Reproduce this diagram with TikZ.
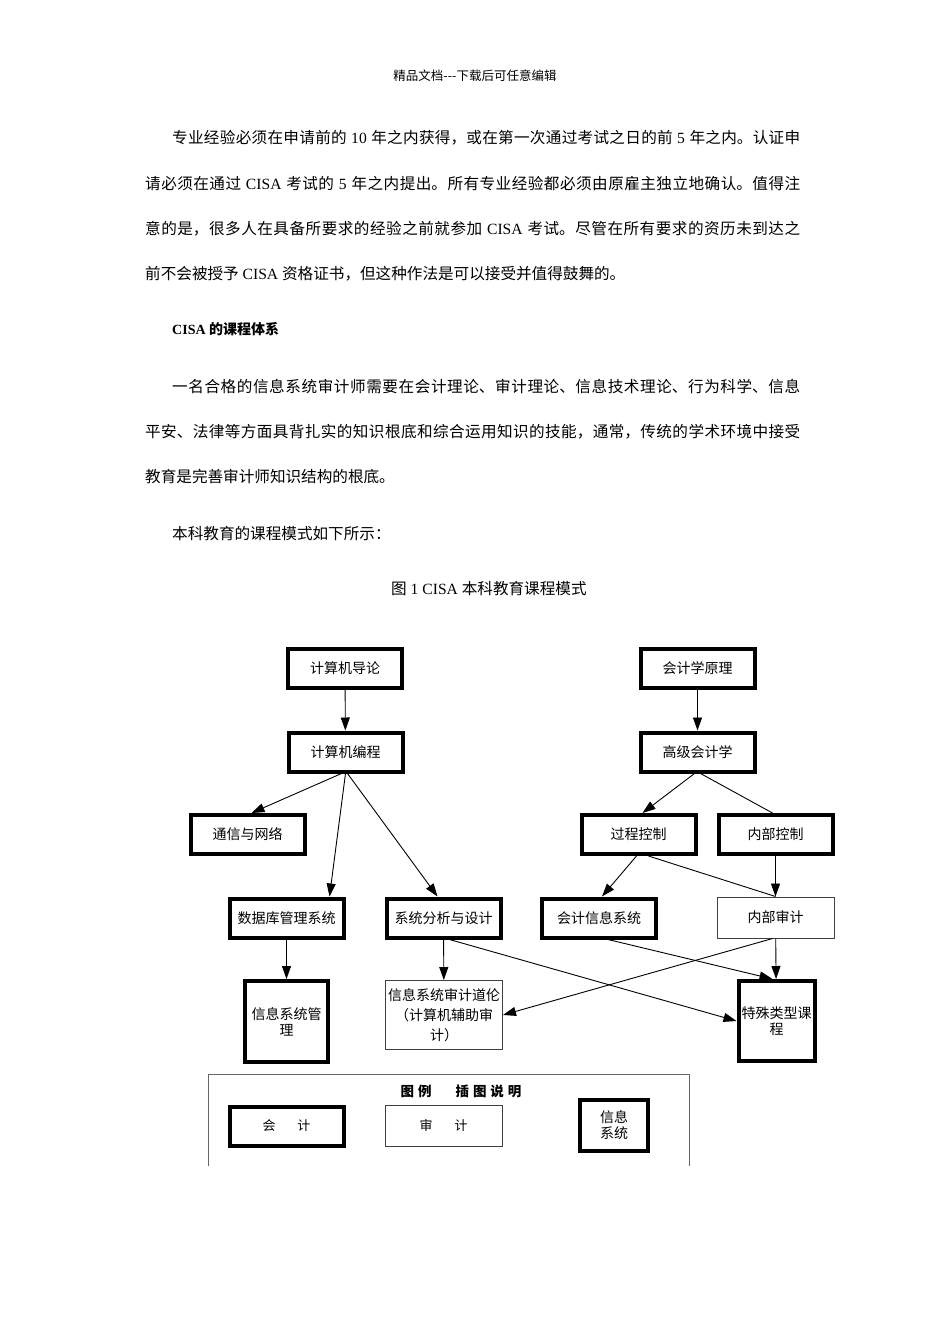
\documentclass[tikz,border=0pt]{standalone}
\usepackage{fontspec}
\setmainfont{Liberation Serif}
\newfontfamily\cjk{Noto Sans CJK SC}
\usetikzlibrary{arrows.meta}
\XeTeXlinebreaklocale "zh"
\XeTeXlinebreakskip=0pt plus 1pt minus 0.5pt

\begin{document}
\begin{tikzpicture}[x=1pt, y=-1pt,
    bodytext/.style={anchor=base west, inner sep=0pt, font=\cjk\fontsize{15.6}{18}\selectfont},
    fullline/.style={bodytext, text width=655pt, align=justify,
      execute at begin node={\parindent=0pt\parfillskip=0pt\relax}},
    course/.style={draw, line width=4pt, inner sep=0pt, minimum width=114pt, minimum height=39pt,
      align=center, font=\cjk\fontsize{14}{16}\selectfont},
    auditbox/.style={draw=black!75, line width=1pt, inner sep=0pt, minimum width=117pt, minimum height=41pt,
      align=center, font=\cjk\fontsize{14}{20}\selectfont},
    arr/.style={-{Triangle[length=13pt,width=9pt]}, line width=0.9pt},
    link/.style={line width=0.9pt},
    legendframe/.style={draw=black!60, line width=1pt}]

	\path[use as bounding box, fill=white] (0,0) rectangle (950,1344);

	% Header and text above the figure
	\node[font=\cjk\fontsize{12.5}{14}\selectfont, anchor=base, inner sep=0pt] (hdr) at (475,80) {精品文档-{}-{}-下载后可任意编辑};

	\node[fullline, text width=628pt] (p1a) at (172,143) {专业经验必须在申请前的\textrm{ 10 }年之内获得，或在第一次通过考试之日的前\textrm{ 5 }年之内。认证申};
	\node[fullline] (p1b) at (145,189) {请必须在通过\textrm{ CISA }考试的\textrm{ 5 }年之内提出。所有专业经验都必须由原雇主独立地确认。值得注};
	\node[fullline] (p1c) at (145,234) {意的是，很多人在具备所要求的经验之前就参加\textrm{ CISA }考试。尽管在所有要求的资历未到达之};
	\node[bodytext] (p1d) at (145,279) {前不会被授予\textrm{ CISA }资格证书，但这种作法是可以接受并值得鼓舞的。};

	\node[bodytext, font=\cjk\bfseries\fontsize{14}{16}\selectfont] (h2) at (172,334) {\textrm{CISA }的课程体系};

	\node[fullline, text width=628pt] (p2a) at (172,392) {一名合格的信息系统审计师需要在会计理论、审计理论、信息技术理论、行为科学、信息};
	\node[fullline] (p2b) at (145,437) {平安、法律等方面具背扎实的知识根底和综合运用知识的技能，通常，传统的学术环境中接受};
	\node[bodytext] (p2c) at (145,482) {教育是完善审计师知识结构的根底。};

	\node[bodytext] (p3) at (172,539) {本科教育的课程模式如下所示：};
	\node[bodytext] (cap) at (391,594) {图\textrm{ 1 CISA }本科教育课程模式};

	% Computer side
	\node[course] (intro) at (345,668.5) {计算机导论};
	\node[course] (prog) at (345.5,752) {计算机编程};
	\node[course] (net) at (247.5,834.5) {通信与网络};
	\node[course] (dbms) at (286.5,918) {数据库管理系统};
	\node[course] (sad) at (443.5,918) {系统分析与设计};
	\node[course, minimum width=83pt, minimum height=81pt] (ism) at (286.5,1021.5) {信息系统管\\理};

	% Accounting side
	\node[course] (acct) at (697.5,668.5) {会计学原理};
	\node[course] (advacct) at (697.5,752) {高级会计学};
	\node[course] (proc) at (638.5,834.5) {过程控制};
	\node[course] (ictl) at (775.5,834.5) {内部控制};
	\node[course] (ais) at (599,918) {会计信息系统};
	\node[auditbox] (iaudit) at (775.5,917.5) {内部审计};

	% Bottom row
	\node[auditbox, minimum height=69pt] (isaudit) at (444,1015) {信息系统审计道伦\\（计算机辅助审\\计）};
	\node[course, minimum width=76pt, minimum height=80pt] (special) at (776.5,1021) {特殊类型课\\程};

	% Connectors
	\draw[arr] (intro) -- (prog);
	\draw[arr] ([xshift=-4pt]prog.south) -- ([xshift=4pt]net.north);
	\draw[arr] (prog.south) -- ([xshift=43pt]dbms.north);
	\draw[arr] ([xshift=2pt]prog.south) -- ([xshift=-6pt]sad.north);
	\draw[arr] (dbms) -- (ism);
	\draw[arr] (sad) -- (isaudit);
	\draw[arr] ([xshift=6pt]sad.south) -- (special.west);

	\draw[arr] (acct) -- (advacct);
	\draw[arr] ([xshift=-3pt]advacct.south) -- ([xshift=4pt]proc.north);
	\draw[link] ([xshift=3pt]advacct.south) -- ([xshift=-3pt]ictl.north);
	\draw[arr] (ictl) -- (iaudit);
	\draw[arr] ([xshift=-2pt]proc.south) -- ([xshift=3pt]ais.north);
	\draw[link] ([xshift=10pt]proc.south) -- (iaudit.north);
	\draw[arr] ([xshift=9pt]ais.south) -- ([xshift=-4pt]special.north);
	\draw[arr] ([xshift=-3pt]iaudit.south) -- (isaudit.east);
	\draw[arr] (iaudit) -- (special);

	% Legend
	\draw[legendframe] (208,1166) -- (208,1074) -- (689,1074) -- (689,1166);
	\node[font=\cjk\bfseries\fontsize{13.5}{15}\selectfont] (legtitle) at (461,1091) {图\hspace{4pt}例\hspace{24pt}插\hspace{4pt}图\hspace{4pt}说\hspace{4pt}明};
	\node[course, font=\cjk\fontsize{13}{15}\selectfont] (legacct) at (286.5,1126) {会\hspace{22pt}计};
	\node[auditbox, font=\cjk\fontsize{13}{15}\selectfont] (legaudit) at (443.5,1125.5) {审\hspace{22pt}计};
	\node[course, minimum width=68pt, minimum height=51pt] (legis) at (614,1125.5) {信息\\系统};
\end{tikzpicture}
\end{document}
